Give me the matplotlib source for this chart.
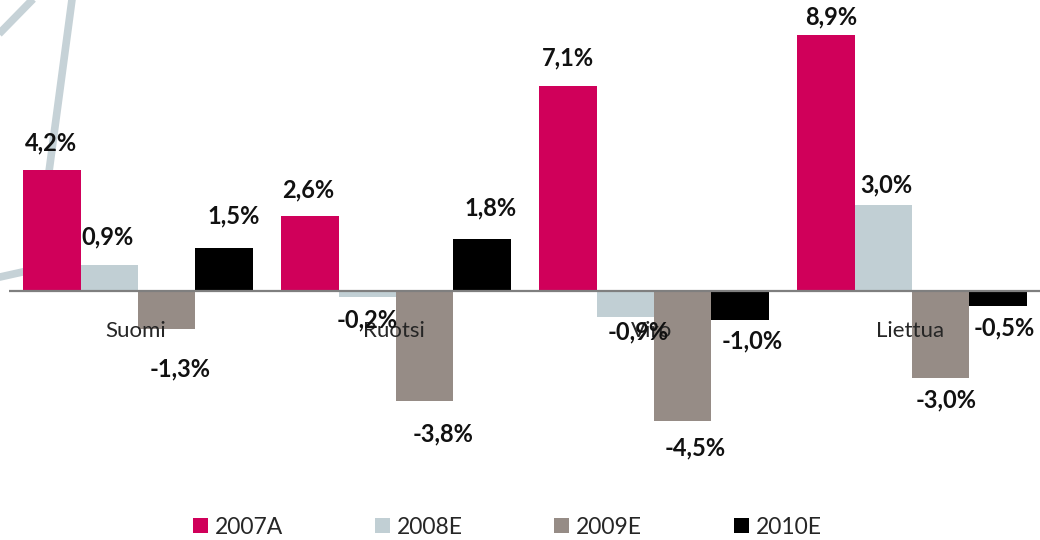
import matplotlib
matplotlib.use("Agg")
import matplotlib.pyplot as plt
from matplotlib.lines import Line2D
from matplotlib.patches import Patch
import numpy as np

# Growth by market and year (%)
markets = ["Suomi", "Ruotsi", "Viro", "Liettua"]
series = ["2007A", "2008E", "2009E", "2010E"]
v2007A = [4.2, 2.6, 7.1, 8.9]
v2008E = [0.9, -0.2, -0.9, 3.0]
v2009E = [-1.3, -3.8, -4.5, -3.0]
v2010E = [1.5, 1.8, -1.0, -0.5]

colors = ["#d0005a", "#c1cfd4", "#968c86", "#000000"]

# label nudges in pixels (dx, distance from bar end), per market x series
label_dx = [[-1, -2, 13, 10],
            [-2, 0, 18, 9],
            [0, 13, 13, 12],
            [5, 3, 5, 6]]
label_dd = [[27, 28, 40, 32],
            [26, 23, 33, 31],
            [29, 15, 27, 21],
            [18, 20, 22, 22]]

W, H = 1040, 540
fig = plt.figure(figsize=(W / 100, H / 100), dpi=100)
fig.patch.set_facecolor("white")

# decorative background strokes (figure pixel coords, y from top)
deco_color = "#c6d2d7"
strokes = [
    [(38, -6), (-6, 39)],
    [(73, -8), (36, 269), (0, 277), (-6, 278)],
]
for pts in strokes:
    xs = [p[0] / W for p in pts]
    ys = [1 - p[1] / H for p in pts]
    fig.add_artist(Line2D(xs, ys, color=deco_color, lw=5.5, zorder=-5,
                          solid_capstyle="butt", solid_joinstyle="miter"))

ax = fig.add_axes([9 / W, 50 / H, 1032 / W, 490 / H])
ax.patch.set_visible(False)
ax.set_xlim(-0.5, 3.5)
ax.set_ylim(-6.9, 10.1)
for s in ax.spines.values():
    s.set_visible(False)
ax.set_xticks([])
ax.set_yticks([])

data = [v2007A, v2008E, v2009E, v2010E]
x = np.arange(len(markets))
bw = 0.222
for j, (name, vals) in enumerate(zip(series, data)):
    pos = x + (j - 1.5) * bw
    ax.bar(pos, vals, width=bw, color=colors[j], label=name, zorder=2,
           linewidth=0)
    for i, v in enumerate(vals):
        txt = f"{v:.1f}".replace(".", ",") + "%"
        d = label_dd[i][j] if v >= 0 else -label_dd[i][j]
        ax.annotate(txt, xy=(pos[i], v), xytext=(label_dx[i][j], d),
                    textcoords="offset pixels", ha="center", va="center",
                    fontfamily="Lato", fontweight="bold", fontsize=17,
                    color="#111111", zorder=5, annotation_clip=False)

ax.axhline(0, color="#7f7f7f", lw=1.6, zorder=3)

for i, m in enumerate(markets):
    ax.annotate(m, xy=(x[i], 0), xytext=(-2, -40), textcoords="offset pixels",
                ha="center", va="center", fontfamily="Lato", fontsize=16,
                color="#262626", zorder=4, annotation_clip=False)

handles = [Patch(facecolor=c, edgecolor="none") for c in colors]
leg = fig.legend(handles, series, loc="center", ncol=4,
                 bbox_to_anchor=(0.488, 13 / H), frameon=False,
                 prop={"family": "Lato", "size": 16.5},
                 handlelength=0.65, handleheight=0.65, handletextpad=0.3,
                 columnspacing=4.0)
for t in leg.get_texts():
    t.set_color("#262626")

fig.savefig("out.png", dpi=100, facecolor="white")
